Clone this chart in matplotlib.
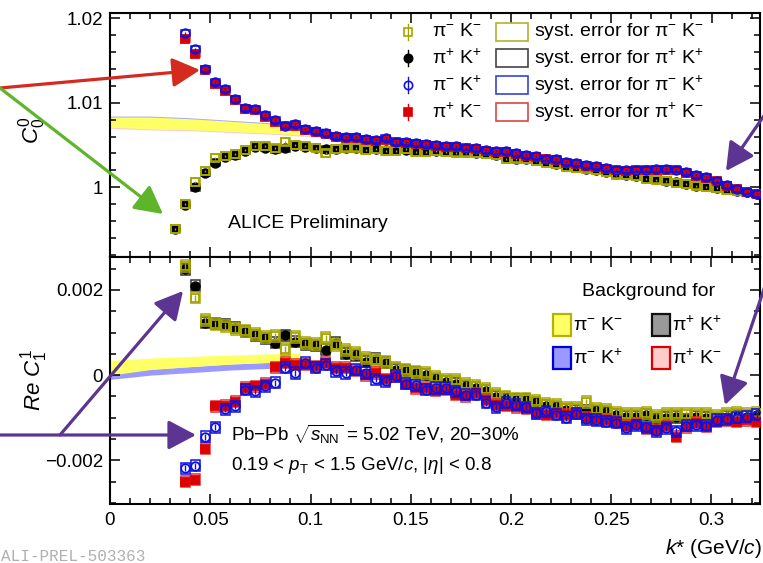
import matplotlib
matplotlib.use('Agg')
import matplotlib.pyplot as plt
import numpy as np
from matplotlib.patches import Rectangle, FancyArrowPatch
from matplotlib.lines import Line2D
from matplotlib.ticker import MultipleLocator

plt.rcParams['font.family'] = ['Liberation Sans', 'DejaVu Sans']
plt.rcParams['mathtext.fontset'] = 'custom'
plt.rcParams['mathtext.rm'] = 'Liberation Sans'
plt.rcParams['mathtext.it'] = 'Liberation Sans:italic'
plt.rcParams['mathtext.bf'] = 'Liberation Sans:bold'

W, H = 763, 563

# k* bin centres (GeV/c)
kstar = [0.0325, 0.0375, 0.0425, 0.0475, 0.0525, 0.0575, 0.0625, 0.0675, 0.0725, 0.0775,
         0.0825, 0.0875, 0.0925, 0.0975, 0.1025, 0.1075, 0.1125, 0.1175, 0.1225, 0.1275,
         0.1325, 0.1375, 0.1425, 0.1475, 0.1525, 0.1575, 0.1625, 0.1675, 0.1725, 0.1775,
         0.1825, 0.1875, 0.1925, 0.1975, 0.2025, 0.2075, 0.2125, 0.2175, 0.2225, 0.2275,
         0.2325, 0.2375, 0.2425, 0.2475, 0.2525, 0.2575, 0.2625, 0.2675, 0.2725, 0.2775,
         0.2825, 0.2875, 0.2925, 0.2975, 0.3025, 0.3075, 0.3125, 0.3175, 0.3225]

# C_0^0 like-sign (from first bin)
c00_pimKm = [0.9951, 0.9980, 1.0006, 1.0019, 1.0035, 1.0037, 1.0039, 1.0044, 1.0049, 1.0049,
             1.0046, 1.0054, 1.0050, 1.0049, 1.0047, 1.0040, 1.0045, 1.0047, 1.0047, 1.0044,
             1.0045, 1.0043, 1.0043, 1.0045, 1.0042, 1.0042, 1.0043, 1.0042, 1.0041, 1.0041,
             1.0040, 1.0039, 1.0038, 1.0033, 1.0034, 1.0033, 1.0031, 1.0029, 1.0027, 1.0024,
             1.0023, 1.0022, 1.0020, 1.0018, 1.0015, 1.0014, 1.0013, 1.0010, 1.0009, 1.0008,
             1.0005, 1.0004, 1.0002, 1.0000, 0.9999, 0.9997, 0.9996, 0.9994, 0.9992]
c00_pipKp = [0.9951, 0.9979, 1.0000, 1.0017, 1.0029, 1.0036, 1.0038, 1.0043, 1.0048, 1.0047,
             1.0045, 1.0046, 1.0049, 1.0048, 1.0047, 1.0045, 1.0045, 1.0046, 1.0046, 1.0045,
             1.0045, 1.0044, 1.0044, 1.0044, 1.0043, 1.0043, 1.0043, 1.0043, 1.0042, 1.0042,
             1.0041, 1.0040, 1.0038, 1.0036, 1.0034, 1.0033, 1.0032, 1.0030, 1.0027, 1.0025,
             1.0024, 1.0022, 1.0021, 1.0018, 1.0016, 1.0014, 1.0013, 1.0011, 1.0010, 1.0008,
             1.0006, 1.0004, 1.0002, 1.0001, 0.9999, 0.9998, 0.9996, 0.9994, 0.9992]
# C_0^0 unlike-sign (from second bin)
c00_pimKp = [1.0182, 1.0163, 1.0140, 1.0124, 1.0116, 1.0104, 1.0094, 1.0092, 1.0085, 1.0080,
             1.0073, 1.0075, 1.0069, 1.0066, 1.0064, 1.0061, 1.0059, 1.0059, 1.0057, 1.0056,
             1.0058, 1.0054, 1.0053, 1.0052, 1.0051, 1.0050, 1.0049, 1.0049, 1.0047, 1.0046,
             1.0044, 1.0043, 1.0043, 1.0040, 1.0038, 1.0037, 1.0034, 1.0033, 1.0030, 1.0029,
             1.0026, 1.0025, 1.0023, 1.0021, 1.0020, 1.0021, 1.0021, 1.0022, 1.0022, 1.0021,
             1.0018, 1.0014, 1.0012, 1.0008, 1.0003, 0.9998, 0.9995, 0.9992]
c00_pipKm = [1.0175, 1.0157, 1.0139, 1.0122, 1.0114, 1.0103, 1.0093, 1.0091, 1.0083, 1.0077,
             1.0072, 1.0073, 1.0068, 1.0065, 1.0063, 1.0060, 1.0058, 1.0058, 1.0056, 1.0055,
             1.0056, 1.0053, 1.0052, 1.0051, 1.0050, 1.0049, 1.0048, 1.0048, 1.0046, 1.0045,
             1.0043, 1.0042, 1.0042, 1.0039, 1.0037, 1.0036, 1.0033, 1.0032, 1.0029, 1.0028,
             1.0025, 1.0024, 1.0022, 1.0020, 1.0019, 1.0020, 1.0020, 1.0021, 1.0021, 1.0020,
             1.0017, 1.0013, 1.0011, 1.0007, 1.0002, 0.9998, 0.9995, 0.9992]

# Re C_1^1 in units of 1e-3 (all from second bin)
rec11_pimKm = [2.55, 1.82, 1.30, 1.20, 1.15, 1.08, 1.04, 0.96, 0.90, 0.92,
               0.62, 0.90, 0.75, 0.72, 0.88, 0.70, 0.58, 0.52, 0.40, 0.35,
               0.30, 0.18, 0.12, 0.08, 0.04, -0.05, -0.12, -0.12, -0.20, -0.25,
               -0.32, -0.45, -0.50, -0.55, -0.55, -0.60, -0.68, -0.70, -0.76, -0.78,
               -0.63, -0.80, -0.82, -0.88, -0.92, -0.90, -0.88, -0.95, -0.92, -0.90,
               -0.92, -0.90, -0.92, -0.95, -0.90, -0.88, -0.90, -0.88]
rec11_pipKp = [2.48, 2.10, 1.23, 1.22, 1.19, 1.11, 1.02, 0.94, 0.86, 0.76,
               0.94, 0.78, 0.72, 0.70, 0.60, 0.76, 0.50, 0.47, 0.32, 0.39,
               0.29, 0.13, 0.10, 0.05, 0.01, -0.10, -0.15, -0.20, -0.26, -0.30,
               -0.36, -0.51, -0.56, -0.58, -0.58, -0.64, -0.72, -0.75, -0.81, -0.83,
               -0.83, -0.85, -0.87, -0.93, -0.98, -0.97, -0.93, -1.03, -1.00, -0.98,
               -1.03, -0.98, -1.00, -1.03, -0.97, -0.95, -0.97, -0.93]
rec11_pimKp = [-2.18, -2.12, -1.44, -1.22, -0.80, -0.73, -0.34, -0.38, -0.26, -0.18,
               0.17, 0.05, 0.29, 0.17, 0.25, 0.09, 0.05, 0.13, 0.05, -0.10,
               -0.14, -0.02, -0.20, -0.24, -0.34, -0.30, -0.30, -0.38, -0.46, -0.46,
               -0.65, -0.75, -0.65, -0.69, -0.75, -0.89, -0.85, -0.93, -1.00, -0.90,
               -1.03, -1.05, -1.09, -1.11, -1.24, -1.17, -1.22, -1.32, -1.24, -1.32,
               -1.19, -1.17, -1.19, -1.05, -1.03, -1.00, -0.97, -0.93]
rec11_pipKm = [-2.50, -2.45, -1.72, -0.73, -0.72, -0.62, -0.30, -0.26, -0.20, 0.18,
               0.29, 0.25, 0.25, 0.21, 0.29, 0.17, 0.17, 0.10, 0.00, 0.05,
               -0.10, -0.02, -0.20, -0.30, -0.30, -0.36, -0.34, -0.46, -0.50, -0.42,
               -0.58, -0.69, -0.72, -0.75, -0.77, -0.89, -0.93, -0.89, -0.93, -0.89,
               -1.00, -1.03, -1.05, -1.09, -1.19, -1.14, -1.24, -1.28, -1.20, -1.44,
               -1.22, -1.12, -1.20, -1.09, -1.05, -1.09, -1.05, -1.09]

# background bands
bg_k_top = [0.0, 0.02, 0.04, 0.06, 0.08, 0.10, 0.11]
bg_top_hi = [1.0083, 1.0083, 1.0081, 1.0078, 1.0075, 1.0071, 1.0068]
bg_top_lo = [1.0071, 1.0069, 1.0068, 1.0066, 1.0064, 1.0061, 1.0060]
bg_k_bot = [0.0, 0.02, 0.04, 0.06, 0.08, 0.095]
bg_bot_yel_hi = [0.35, 0.40, 0.44, 0.47, 0.50, 0.52]
bg_bot_yel_lo = [0.00, 0.13, 0.20, 0.26, 0.30, 0.33]
bg_bot_blu_hi = [0.08, 0.14, 0.20, 0.26, 0.30, 0.33]
bg_bot_blu_lo = [-0.10, 0.00, 0.06, 0.12, 0.16, 0.20]

OLIVE = '#a6a600'
BLUE = '#1010e0'
RED = '#dd0000'
PURPLE = '#5b3591'


def fx(px):
    return px / W


def fy(py):
    return 1 - py / H


fig = plt.figure(figsize=(W / 100, H / 100), dpi=100)
ax1 = fig.add_axes([fx(110), fy(257), (760 - 110) / W, (257 - 13) / H])
ax2 = fig.add_axes([fx(110), fy(504), (760 - 110) / W, (504 - 257) / H])

k_all = np.array(kstar)
k_2 = k_all[1:]
BOX_W = 0.0044


def draw_series(ax, k, y, box_col, fmt, mfc, mec, half_h, stat, z):
    for ki, yi in zip(k, y):
        ax.add_patch(Rectangle((ki - BOX_W / 2, yi - half_h), BOX_W, 2 * half_h,
                               fill=False, ec=box_col, lw=1.1, zorder=z))
    ax.errorbar(k, y, yerr=stat, fmt=fmt, mfc=mfc, mec=mec, ecolor=mec, ms=6.2,
                mew=1.3, elinewidth=1.0, capsize=0, zorder=z + 0.5)


# ============ top panel: C_0^0 ============
ax1.fill_between(bg_k_top, np.array(bg_top_lo) + 0.0001, np.array(bg_top_hi) + 0.00012,
                 color='#aab0ee', lw=0, zorder=1)
ax1.fill_between(bg_k_top, np.array(bg_top_lo) - 0.00012, np.array(bg_top_hi) - 0.0001,
                 color='#ffcccc', lw=0, zorder=1.1)
ax1.fill_between(bg_k_top, bg_top_lo, bg_top_hi, color='#ffff66', lw=0, zorder=1.2)

draw_series(ax1, k_all, c00_pipKp, '#333333', 'o', 'black', 'black', 0.0004, 0.00012, 3)
draw_series(ax1, k_all, c00_pimKm, OLIVE, 's', 'none', OLIVE, 0.00045, 0.00012, 4)
draw_series(ax1, k_2, c00_pipKm, '#e03030', 's', RED, RED, 0.00035, 0.00012, 5)
draw_series(ax1, k_2, c00_pimKp, BLUE, 'o', 'none', BLUE, 0.00035, 0.00012, 6)

ax1.set_xlim(0, 650 / 2005)
ax1.set_ylim(0.99176, 1.0206)
ax1.set_yticks([1.0, 1.01, 1.02], ['1', '1.01', '1.02'])
ax1.yaxis.set_minor_locator(MultipleLocator(0.002))

# ============ bottom panel: Re C_1^1 ============
ax2.fill_between(bg_k_bot, np.array(bg_bot_blu_lo) * 1e-3, np.array(bg_bot_blu_hi) * 1e-3,
                 color='#9999ff', lw=0, zorder=1)
ax2.fill_between(bg_k_bot, np.array(bg_bot_yel_lo) * 1e-3, np.array(bg_bot_yel_hi) * 1e-3,
                 color='#ffff66', lw=0, zorder=1.1)

draw_series(ax2, k_2, np.array(rec11_pipKp) * 1e-3, '#333333', 'o', 'black', 'black', 0.00013, 0.00007, 3)
draw_series(ax2, k_2, np.array(rec11_pimKm) * 1e-3, OLIVE, 's', 'none', OLIVE, 0.00014, 0.00007, 4)
draw_series(ax2, k_2, np.array(rec11_pipKm) * 1e-3, '#e03030', 's', RED, RED, 0.00013, 0.00007, 5)
draw_series(ax2, k_2, np.array(rec11_pimKp) * 1e-3, BLUE, 'o', 'none', BLUE, 0.00013, 0.00007, 6)

ax2.set_xlim(0, 650 / 2005)
ax2.set_ylim(-0.00302, 0.00277)
ax2.set_yticks([-0.002, 0.0, 0.002], ['\u22120.002', '0', '0.002'])
ax2.yaxis.set_minor_locator(MultipleLocator(0.0005))
ax2.set_xticks([0, 0.05, 0.1, 0.15, 0.2, 0.25, 0.3],
               ['0', '0.05', '0.1', '0.15', '0.2', '0.25', '0.3'])

for ax in [ax1, ax2]:
    ax.xaxis.set_minor_locator(MultipleLocator(0.01))
    ax.tick_params(which='both', direction='in', top=True, right=True, width=1.1,
                   labelsize=13.5)
    ax.tick_params(which='major', length=7.5)
    ax.tick_params(which='minor', length=4)
    ax.tick_params(axis='y', pad=5)
    ax.tick_params(axis='x', pad=6)
    for s in ax.spines.values():
        s.set_linewidth(1.5)
plt.setp(ax1.get_xticklabels(), visible=False)

# ============ texts ============
fig.text(fx(32), fy(130), r'$C^{0}_{0}$', rotation=90, fontsize=16, ha='center', va='center')
fig.text(fx(34), fy(380), r'$Re\ C^{1}_{1}$', rotation=90, fontsize=16, ha='center', va='center')
fig.text(fx(762), fy(548), r'$k$* (GeV/$c$)', fontsize=15, ha='right', va='center')
fig.text(fx(1), fy(549), 'ALI-PREL-503363', fontsize=11.5, family='Liberation Mono',
         color='#b0b0b0', ha='left', va='top')
fig.text(fx(228), fy(223), 'ALICE Preliminary', fontsize=14, ha='left', va='center')
fig.text(fx(231), fy(434), r'Pb$-$Pb $\sqrt{s_{\rm NN}}$ = 5.02 TeV, 20$-$30%',
         fontsize=13.5, ha='left', va='center')
fig.text(fx(231), fy(466), r'0.19 < $p_{\rm T}$ < 1.5 GeV/$c$, |$\eta$| < 0.8',
         fontsize=13.5, ha='left', va='center')

# ============ legend: data + syst ============
leg_rows = [
    (r'π$^{-}$ K$^{-}$', 's', 'none', OLIVE, '#b0b030'),
    (r'π$^{+}$ K$^{+}$', 'o', 'black', 'black', '#444444'),
    (r'π$^{-}$ K$^{+}$', 'o', 'none', BLUE, '#3344dd'),
    (r'π$^{+}$ K$^{-}$', 's', RED, RED, '#dd4444'),
]
row_y = [32, 58, 85, 112]
for (lab, mk, mfc, mec, bc), yy in zip(leg_rows, row_y):
    fig.add_artist(Line2D([fx(408), fx(408)], [fy(yy - 8), fy(yy + 8)], color=mec, lw=1.0))
    fig.add_artist(Line2D([fx(408)], [fy(yy)], marker=mk, mfc=mfc, mec=mec, ms=6, mew=1.2,
                          ls='none'))
    fig.text(fx(432), fy(yy), lab, fontsize=14, ha='left', va='center')
    fig.add_artist(Rectangle((fx(496), fy(yy + 9)), 32 / W, 18 / H, fill=False, ec=bc, lw=1.2,
                             transform=fig.transFigure))
    fig.text(fx(534), fy(yy), 'syst. error for ' + lab, fontsize=14, ha='left', va='center')

# ============ legend: backgrounds ============
fig.text(fx(649), fy(292), 'Background for', fontsize=14, ha='center', va='center')
bg_leg = [
    (553, 325, '#ffff66', '#b3b300', r'π$^{-}$ K$^{-}$'),
    (652, 325, '#999999', '#111111', r'π$^{+}$ K$^{+}$'),
    (553, 358, '#9999ff', '#0000dd', r'π$^{-}$ K$^{+}$'),
    (652, 358, '#ffcccc', '#dd0000', r'π$^{+}$ K$^{-}$'),
]
for bx, by, fc, ec, lab in bg_leg:
    fig.add_artist(Rectangle((fx(bx), fy(by + 11)), 18 / W, 22 / H, fc=fc, ec=ec, lw=1.6,
                             transform=fig.transFigure))
    fig.text(fx(bx + 20), fy(by), lab, fontsize=14, ha='left', va='center')

# ============ arrows ============
arrows = [
    ((0, 88), (200, 70), '#d42a1f'),
    ((0, 88), (163, 214), '#5fb52a'),
    ((772, 104), (726, 171), PURPLE),
    ((767, 280), (725, 405), PURPLE),
    ((60, 435), (183, 291), PURPLE),
    ((-5, 435), (196, 435), PURPLE),
]
for (x0, y0), (x1, y1), col in arrows:
    fig.add_artist(FancyArrowPatch((fx(x0), fy(y0)), (fx(x1), fy(y1)),
                                   transform=fig.transFigure,
                                   arrowstyle='-|>,head_length=0.85,head_width=0.45',
                                   mutation_scale=20, lw=2.3, color=col,
                                   shrinkA=0, shrinkB=0, zorder=10))

fig.savefig('out.png', dpi=100)
